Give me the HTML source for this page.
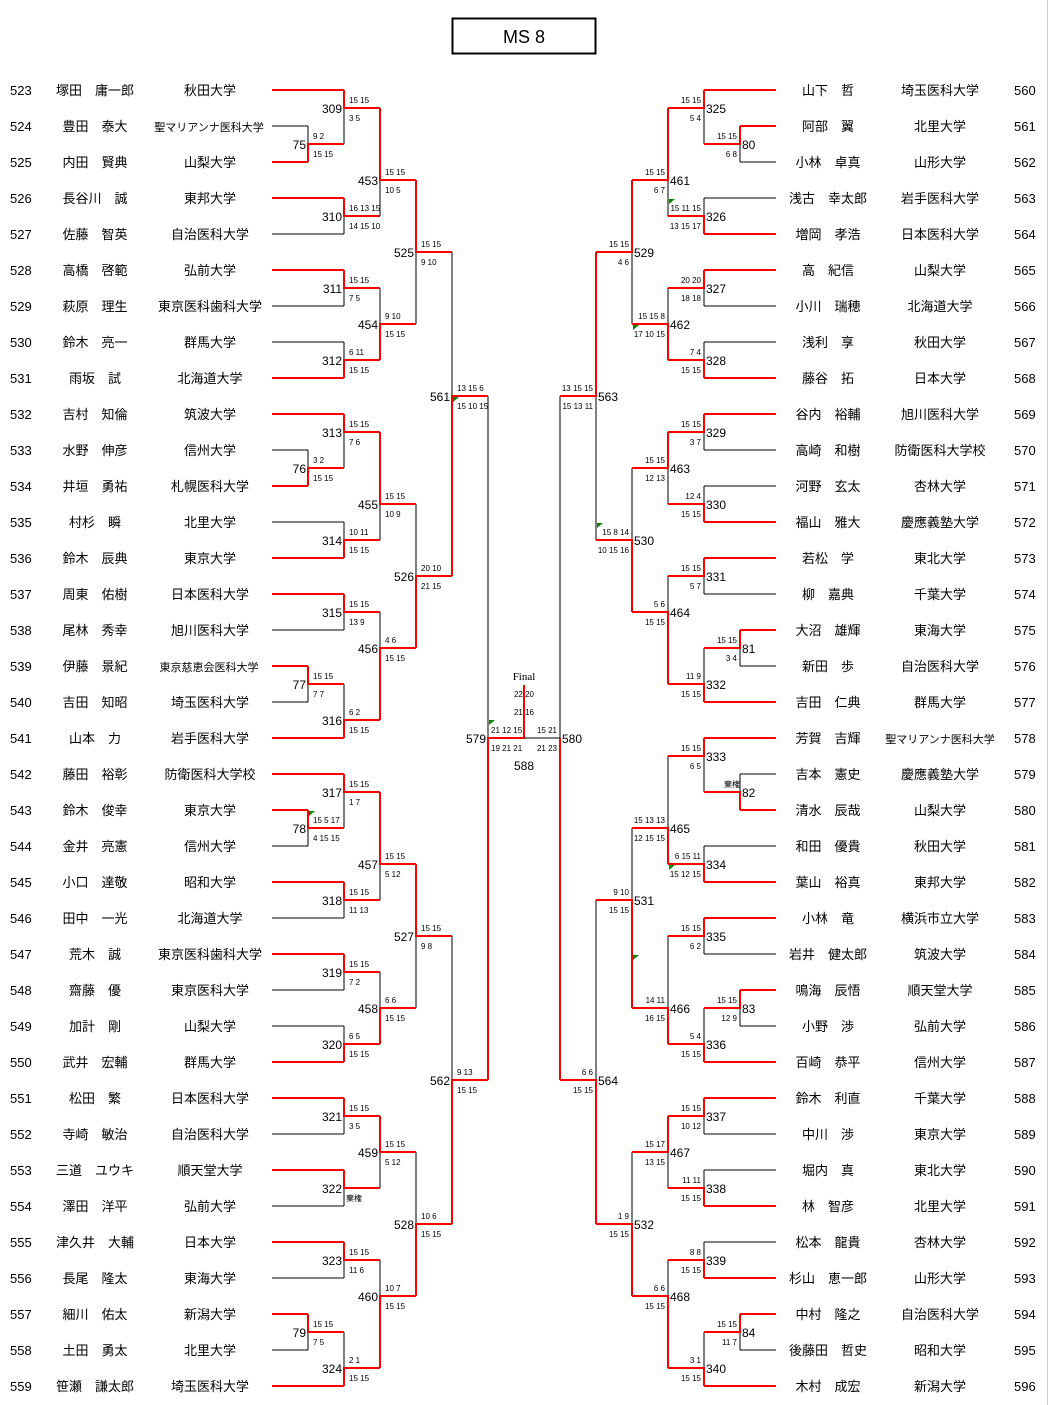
<!DOCTYPE html>
<html><head><meta charset="utf-8"><style>
body{margin:0;background:#fff;}
svg{display:block;font-family:"Liberation Sans","Noto Sans CJK JP",sans-serif;}
.p{font-size:13px;}
.sm{font-size:11px;}
.n{font-size:12px;}
.s{font-size:8px;}
.bk{stroke:#000;stroke-width:1;fill:none;}
.rd{stroke:#f00;stroke-width:2;fill:none;}
</style></head><body>
<svg width="1049" height="1405" viewBox="0 0 1049 1405">
<line x1="1047.5" y1="0" x2="1047.5" y2="1405" stroke="#ccc"/>
<rect x="452.5" y="18.5" width="143" height="35" fill="none" stroke="#000" stroke-width="2"/>
<text x="524" y="43" text-anchor="middle" font-size="18">MS 8</text>

<!-- LEFT lines -->
<path class="bk" d="M272 126H308 M272 234H344 M272 306H344 M272 342H344 M272 450H308 M272 522H344 M272 630H344 M272 702H308 M272 846H308 M272 918H344 M272 990H344 M272 1026H344 M272 1134H344 M272 1206H344 M272 1278H344 M272 1350H308
M308 126V144 M308 450V468 M308 684V702 M308 828V846 M308 1332V1350
M344 108V144 M344 216V234 M344 288V306 M344 342V360 M344 432V468 M344 522V540 M344 612V630 M344 684V720 M344 792V828 M344 900V918 M344 972V990 M344 1026V1044 M344 1116V1134 M344 1188V1206 M344 1260V1278 M344 1332V1368
M380 180V216 M380 288V324 M380 504V540 M380 612V648 M380 864V900 M380 972V1008 M380 1152V1188 M380 1260V1296
M416 252V324 M416 504V576 M416 936V1008 M416 1152V1224
M452 252V396 M452 936V1080 M488 396V738"/>
<path class="rd" d="M272 90H344 M272 162H308 M272 198H344 M272 270H344 M272 378H344 M272 414H344 M272 486H308 M272 558H344 M272 594H344 M272 666H308 M272 738H344 M272 774H344 M272 810H308 M272 882H344 M272 954H344 M272 1062H344 M272 1098H344 M272 1170H344 M272 1242H344 M272 1314H308 M272 1386H344
M308 162V144H344 M308 486V468H344 M308 666V684H344 M308 810V828H344 M308 1314V1332H344
M344 90V108H380 M344 198V216H380 M344 270V288H380 M344 378V360H380 M344 414V432H380 M344 558V540H380 M344 594V612H380 M344 738V720H380 M344 774V792H380 M344 882V900H380 M344 954V972H380 M344 1062V1044H380 M344 1098V1116H380 M344 1170V1188H380 M344 1242V1260H380 M344 1386V1368H380
M380 108V180H416 M380 360V324H416 M380 432V504H416 M380 720V648H416 M380 792V864H416 M380 1044V1008H416 M380 1116V1152H416 M380 1368V1296H416
M416 180V252H452 M416 648V576H452 M416 864V936H452 M416 1296V1224H452
M452 576V396H488 M452 1224V1080H488 M488 1080V738H524V685"/>

<!-- RIGHT lines -->
<path class="bk" d="M776 162H740 M776 198H704 M776 306H704 M776 342H704 M776 450H704 M776 486H704 M776 594H704 M776 666H740 M776 774H740 M776 846H704 M776 954H704 M776 1026H740 M776 1134H704 M776 1170H704 M776 1242H704 M776 1350H740
M740 144V162 M740 648V666 M740 774V792 M740 1008V1026 M740 1332V1350
M704 108V144 M704 198V216 M704 288V306 M704 342V360 M704 432V450 M704 486V504 M704 576V594 M704 648V684 M704 756V792 M704 846V864 M704 936V954 M704 1008V1044 M704 1116V1134 M704 1170V1188 M704 1242V1260 M704 1332V1368
M668 180V216 M668 288V324 M668 468V504 M668 576V612 M668 756V828 M668 936V1008 M668 1152V1188 M668 1260V1296
M632 252V324 M632 468V540 M632 828V900 M632 1152V1224
M596 396V540 M596 900V1080 M560 396V738H524"/>
<path class="rd" d="M776 90H704 M776 126H740 M776 234H704 M776 270H704 M776 378H704 M776 414H704 M776 522H704 M776 558H704 M776 630H740 M776 702H704 M776 738H704 M776 810H740 M776 882H704 M776 918H704 M776 990H740 M776 1062H704 M776 1098H704 M776 1206H704 M776 1278H704 M776 1314H740 M776 1386H704
M740 126V144H704 M740 630V648H704 M740 810V792H704 M740 990V1008H704 M740 1314V1332H704
M704 90V108H668 M704 234V216H668 M704 270V288H668 M704 378V360H668 M704 414V432H668 M704 522V504H668 M704 558V576H668 M704 702V684H668 M704 738V756H668 M704 882V864H668 M704 918V936H668 M704 1062V1044H668 M704 1098V1116H668 M704 1206V1188H668 M704 1278V1260H668 M704 1386V1368H668
M668 108V180H632 M668 360V324H632 M668 432V468H632 M668 684V612H632 M668 864V828H632 M668 1044V1008H632 M668 1116V1152H632 M668 1368V1296H632
M632 180V252H596 M632 612V540H596 M632 1008V900H596 M632 1296V1224H596
M596 252V396H560 M596 1224V1080H560 M560 1080V738"/>

<!-- green marks -->
<g fill="#080">
<path d="M453 397h6l-6 5z"/><path d="M489 720h6l-6 5z"/><path d="M309 811h6l-6 5z"/>
<path d="M669 199h6l-6 5z"/><path d="M633 325h6l-6 5z"/><path d="M597 523h6l-6 5z"/><path d="M669 865h6l-6 5z"/><path d="M633 955h6l-6 5z"/>
</g>

<!-- node labels left -->
<g class="n" text-anchor="end">
<text x="306" y="149">75</text><text x="306" y="473">76</text><text x="306" y="689">77</text><text x="306" y="833">78</text><text x="306" y="1337">79</text>
<text x="342" y="113">309</text><text x="342" y="221">310</text><text x="342" y="293">311</text><text x="342" y="365">312</text><text x="342" y="437">313</text><text x="342" y="545">314</text><text x="342" y="617">315</text><text x="342" y="725">316</text><text x="342" y="797">317</text><text x="342" y="905">318</text><text x="342" y="977">319</text><text x="342" y="1049">320</text><text x="342" y="1121">321</text><text x="342" y="1193">322</text><text x="342" y="1265">323</text><text x="342" y="1373">324</text>
<text x="378" y="185">453</text><text x="378" y="329">454</text><text x="378" y="509">455</text><text x="378" y="653">456</text><text x="378" y="869">457</text><text x="378" y="1013">458</text><text x="378" y="1157">459</text><text x="378" y="1301">460</text>
<text x="414" y="257">525</text><text x="414" y="581">526</text><text x="414" y="941">527</text><text x="414" y="1229">528</text>
<text x="450" y="401">561</text><text x="450" y="1085">562</text><text x="486" y="743">579</text>
</g>
<g class="n">
<text x="742" y="149">80</text><text x="742" y="653">81</text><text x="742" y="797">82</text><text x="742" y="1013">83</text><text x="742" y="1337">84</text>
<text x="706" y="113">325</text><text x="706" y="221">326</text><text x="706" y="293">327</text><text x="706" y="365">328</text><text x="706" y="437">329</text><text x="706" y="509">330</text><text x="706" y="581">331</text><text x="706" y="689">332</text><text x="706" y="761">333</text><text x="706" y="869">334</text><text x="706" y="941">335</text><text x="706" y="1049">336</text><text x="706" y="1121">337</text><text x="706" y="1193">338</text><text x="706" y="1265">339</text><text x="706" y="1373">340</text>
<text x="670" y="185">461</text><text x="670" y="329">462</text><text x="670" y="473">463</text><text x="670" y="617">464</text><text x="670" y="833">465</text><text x="670" y="1013">466</text><text x="670" y="1157">467</text><text x="670" y="1301">468</text>
<text x="634" y="257">529</text><text x="634" y="545">530</text><text x="634" y="905">531</text><text x="634" y="1229">532</text>
<text x="598" y="401">563</text><text x="598" y="1085">564</text><text x="562" y="743">580</text>
<text x="524" y="770" text-anchor="middle">588</text>
</g>
<text x="524" y="680" text-anchor="middle" font-size="11" font-family="Liberation Serif,serif">Final</text>

<!-- scores left -->
<g class="s">
<text x="313" y="139">9 2</text><text x="313" y="157">15 15</text>
<text x="313" y="463">3 2</text><text x="313" y="481">15 15</text>
<text x="313" y="679">15 15</text><text x="313" y="697">7 7</text>
<text x="313" y="823">15 5 17</text><text x="313" y="841">4 15 15</text>
<text x="313" y="1327">15 15</text><text x="313" y="1345">7 5</text>
<text x="349" y="103">15 15</text><text x="349" y="121">3 5</text>
<text x="349" y="211">16 13 15</text><text x="349" y="229">14 15 10</text>
<text x="349" y="283">15 15</text><text x="349" y="301">7 5</text>
<text x="349" y="355">6 11</text><text x="349" y="373">15 15</text>
<text x="349" y="427">15 15</text><text x="349" y="445">7 6</text>
<text x="349" y="535">10 11</text><text x="349" y="553">15 15</text>
<text x="349" y="607">15 15</text><text x="349" y="625">13 9</text>
<text x="349" y="715">6 2</text><text x="349" y="733">15 15</text>
<text x="349" y="787">15 15</text><text x="349" y="805">1 7</text>
<text x="349" y="895">15 15</text><text x="349" y="913">11 13</text>
<text x="349" y="967">15 15</text><text x="349" y="985">7 2</text>
<text x="349" y="1039">6 5</text><text x="349" y="1057">15 15</text>
<text x="349" y="1111">15 15</text><text x="349" y="1129">3 5</text>
<text x="346" y="1201">棄権</text>
<text x="349" y="1255">15 15</text><text x="349" y="1273">11 6</text>
<text x="349" y="1363">2 1</text><text x="349" y="1381">15 15</text>
<text x="385" y="175">15 15</text><text x="385" y="193">10 5</text>
<text x="385" y="319">9 10</text><text x="385" y="337">15 15</text>
<text x="385" y="499">15 15</text><text x="385" y="517">10 9</text>
<text x="385" y="643">4 6</text><text x="385" y="661">15 15</text>
<text x="385" y="859">15 15</text><text x="385" y="877">5 12</text>
<text x="385" y="1003">6 6</text><text x="385" y="1021">15 15</text>
<text x="385" y="1147">15 15</text><text x="385" y="1165">5 12</text>
<text x="385" y="1291">10 7</text><text x="385" y="1309">15 15</text>
<text x="421" y="247">15 15</text><text x="421" y="265">9 10</text>
<text x="421" y="571">20 10</text><text x="421" y="589">21 15</text>
<text x="421" y="931">15 15</text><text x="421" y="949">9 8</text>
<text x="421" y="1219">10 6</text><text x="421" y="1237">15 15</text>
<text x="457" y="391">13 15 6</text><text x="457" y="409">15 10 15</text>
<text x="457" y="1075">9 13</text><text x="457" y="1093">15 15</text>
<text x="491" y="733">21 12 15</text><text x="491" y="751">19 21 21</text>
<text x="524" y="697" text-anchor="middle">22 20</text><text x="524" y="715" text-anchor="middle">21 16</text>
<text x="557" y="733" text-anchor="end">15 21</text><text x="557" y="751" text-anchor="end">21 23</text>
</g>
<!-- scores right -->
<g class="s" text-anchor="end">
<text x="737" y="139">15 15</text><text x="737" y="157">6 8</text>
<text x="737" y="643">15 15</text><text x="737" y="661">3 4</text>
<text x="740" y="787">棄権</text>
<text x="737" y="1003">15 15</text><text x="737" y="1021">12 9</text>
<text x="737" y="1327">15 15</text><text x="737" y="1345">11 7</text>
<text x="701" y="103">15 15</text><text x="701" y="121">5 4</text>
<text x="701" y="211">15 11 15</text><text x="701" y="229">13 15 17</text>
<text x="701" y="283">20 20</text><text x="701" y="301">18 18</text>
<text x="701" y="355">7 4</text><text x="701" y="373">15 15</text>
<text x="701" y="427">15 15</text><text x="701" y="445">3 7</text>
<text x="701" y="499">12 4</text><text x="701" y="517">15 15</text>
<text x="701" y="571">15 15</text><text x="701" y="589">5 7</text>
<text x="701" y="679">11 9</text><text x="701" y="697">15 15</text>
<text x="701" y="751">15 15</text><text x="701" y="769">6 5</text>
<text x="701" y="859">6 15 11</text><text x="701" y="877">15 12 15</text>
<text x="701" y="931">15 15</text><text x="701" y="949">6 2</text>
<text x="701" y="1039">5 4</text><text x="701" y="1057">15 15</text>
<text x="701" y="1111">15 15</text><text x="701" y="1129">10 12</text>
<text x="701" y="1183">11 11</text><text x="701" y="1201">15 15</text>
<text x="701" y="1255">8 8</text><text x="701" y="1273">15 15</text>
<text x="701" y="1363">3 1</text><text x="701" y="1381">15 15</text>
<text x="665" y="175">15 15</text><text x="665" y="193">6 7</text>
<text x="665" y="319">15 15 8</text><text x="665" y="337">17 10 15</text>
<text x="665" y="463">15 15</text><text x="665" y="481">12 13</text>
<text x="665" y="607">5 6</text><text x="665" y="625">15 15</text>
<text x="665" y="823">15 13 13</text><text x="665" y="841">12 15 15</text>
<text x="665" y="1003">14 11</text><text x="665" y="1021">16 15</text>
<text x="665" y="1147">15 17</text><text x="665" y="1165">13 15</text>
<text x="665" y="1291">6 6</text><text x="665" y="1309">15 15</text>
<text x="629" y="247">15 15</text><text x="629" y="265">4 6</text>
<text x="629" y="535">15 8 14</text><text x="629" y="553">10 15 16</text>
<text x="629" y="895">9 10</text><text x="629" y="913">15 15</text>
<text x="629" y="1219">1 9</text><text x="629" y="1237">15 15</text>
<text x="593" y="391">13 15 15</text><text x="593" y="409">15 13 11</text>
<text x="593" y="1075">6 6</text><text x="593" y="1093">15 15</text>
</g>

<!-- LEFT players -->
<g class="p">
<g><text x="10" y="95">523</text><text x="10" y="131">524</text><text x="10" y="167">525</text><text x="10" y="203">526</text><text x="10" y="239">527</text><text x="10" y="275">528</text><text x="10" y="311">529</text><text x="10" y="347">530</text><text x="10" y="383">531</text><text x="10" y="419">532</text><text x="10" y="455">533</text><text x="10" y="491">534</text><text x="10" y="527">535</text><text x="10" y="563">536</text><text x="10" y="599">537</text><text x="10" y="635">538</text><text x="10" y="671">539</text><text x="10" y="707">540</text><text x="10" y="743">541</text><text x="10" y="779">542</text><text x="10" y="815">543</text><text x="10" y="851">544</text><text x="10" y="887">545</text><text x="10" y="923">546</text><text x="10" y="959">547</text><text x="10" y="995">548</text><text x="10" y="1031">549</text><text x="10" y="1067">550</text><text x="10" y="1103">551</text><text x="10" y="1139">552</text><text x="10" y="1175">553</text><text x="10" y="1211">554</text><text x="10" y="1247">555</text><text x="10" y="1283">556</text><text x="10" y="1319">557</text><text x="10" y="1355">558</text><text x="10" y="1391">559</text></g>
<g text-anchor="middle">
<text x="95" y="95">塚田　庸一郎</text><text x="95" y="131">豊田　泰大</text><text x="95" y="167">内田　賢典</text><text x="95" y="203">長谷川　誠</text><text x="95" y="239">佐藤　智英</text><text x="95" y="275">高橋　啓範</text><text x="95" y="311">萩原　理生</text><text x="95" y="347">鈴木　亮一</text><text x="95" y="383">雨坂　試</text><text x="95" y="419">吉村　知倫</text><text x="95" y="455">水野　伸彦</text><text x="95" y="491">井垣　勇祐</text><text x="95" y="527">村杉　瞬</text><text x="95" y="563">鈴木　辰典</text><text x="95" y="599">周東　佑樹</text><text x="95" y="635">尾林　秀幸</text><text x="95" y="671">伊藤　景紀</text><text x="95" y="707">吉田　知昭</text><text x="95" y="743">山本　力</text><text x="95" y="779">藤田　裕彰</text><text x="95" y="815">鈴木　俊幸</text><text x="95" y="851">金井　亮憲</text><text x="95" y="887">小口　達敬</text><text x="95" y="923">田中　一光</text><text x="95" y="959">荒木　誠</text><text x="95" y="995">齋藤　優</text><text x="95" y="1031">加計　剛</text><text x="95" y="1067">武井　宏輔</text><text x="95" y="1103">松田　繁</text><text x="95" y="1139">寺崎　敏治</text><text x="95" y="1175">三道　ユウキ</text><text x="95" y="1211">澤田　洋平</text><text x="95" y="1247">津久井　大輔</text><text x="95" y="1283">長尾　隆太</text><text x="95" y="1319">細川　佑太</text><text x="95" y="1355">土田　勇太</text><text x="95" y="1391">笹瀬　謙太郎</text>
<text x="210" y="95">秋田大学</text><text x="209" y="131" class="sm">聖マリアンナ医科大学</text><text x="210" y="167">山梨大学</text><text x="210" y="203">東邦大学</text><text x="210" y="239">自治医科大学</text><text x="210" y="275">弘前大学</text><text x="210" y="311">東京医科歯科大学</text><text x="210" y="347">群馬大学</text><text x="210" y="383">北海道大学</text><text x="210" y="419">筑波大学</text><text x="210" y="455">信州大学</text><text x="210" y="491">札幌医科大学</text><text x="210" y="527">北里大学</text><text x="210" y="563">東京大学</text><text x="210" y="599">日本医科大学</text><text x="210" y="635">旭川医科大学</text><text x="209" y="671" class="sm">東京慈恵会医科大学</text><text x="210" y="707">埼玉医科大学</text><text x="210" y="743">岩手医科大学</text><text x="210" y="779">防衛医科大学校</text><text x="210" y="815">東京大学</text><text x="210" y="851">信州大学</text><text x="210" y="887">昭和大学</text><text x="210" y="923">北海道大学</text><text x="210" y="959">東京医科歯科大学</text><text x="210" y="995">東京医科大学</text><text x="210" y="1031">山梨大学</text><text x="210" y="1067">群馬大学</text><text x="210" y="1103">日本医科大学</text><text x="210" y="1139">自治医科大学</text><text x="210" y="1175">順天堂大学</text><text x="210" y="1211">弘前大学</text><text x="210" y="1247">日本大学</text><text x="210" y="1283">東海大学</text><text x="210" y="1319">新潟大学</text><text x="210" y="1355">北里大学</text><text x="210" y="1391">埼玉医科大学</text>
</g>
</g>

<!-- RIGHT players -->
<g class="p">
<g text-anchor="middle">
<text x="828" y="95">山下　哲</text><text x="828" y="131">阿部　翼</text><text x="828" y="167">小林　卓真</text><text x="828" y="203">浅古　幸太郎</text><text x="828" y="239">増岡　孝浩</text><text x="828" y="275">高　紀信</text><text x="828" y="311">小川　瑞穂</text><text x="828" y="347">浅利　享</text><text x="828" y="383">藤谷　拓</text><text x="828" y="419">谷内　裕輔</text><text x="828" y="455">高崎　和樹</text><text x="828" y="491">河野　玄太</text><text x="828" y="527">福山　雅大</text><text x="828" y="563">若松　学</text><text x="828" y="599">柳　嘉典</text><text x="828" y="635">大沼　雄輝</text><text x="828" y="671">新田　歩</text><text x="828" y="707">吉田　仁典</text><text x="828" y="743">芳賀　吉輝</text><text x="828" y="779">吉本　憲史</text><text x="828" y="815">清水　辰哉</text><text x="828" y="851">和田　優貴</text><text x="828" y="887">葉山　裕真</text><text x="828" y="923">小林　竜</text><text x="828" y="959">岩井　健太郎</text><text x="828" y="995">鳴海　辰悟</text><text x="828" y="1031">小野　渉</text><text x="828" y="1067">百崎　恭平</text><text x="828" y="1103">鈴木　利直</text><text x="828" y="1139">中川　渉</text><text x="828" y="1175">堀内　真</text><text x="828" y="1211">林　智彦</text><text x="828" y="1247">松本　龍貴</text><text x="828" y="1283">杉山　恵一郎</text><text x="828" y="1319">中村　隆之</text><text x="828" y="1355">後藤田　哲史</text><text x="828" y="1391">木村　成宏</text>
<text x="940" y="95">埼玉医科大学</text><text x="940" y="131">北里大学</text><text x="940" y="167">山形大学</text><text x="940" y="203">岩手医科大学</text><text x="940" y="239">日本医科大学</text><text x="940" y="275">山梨大学</text><text x="940" y="311">北海道大学</text><text x="940" y="347">秋田大学</text><text x="940" y="383">日本大学</text><text x="940" y="419">旭川医科大学</text><text x="940" y="455">防衛医科大学校</text><text x="940" y="491">杏林大学</text><text x="940" y="527">慶應義塾大学</text><text x="940" y="563">東北大学</text><text x="940" y="599">千葉大学</text><text x="940" y="635">東海大学</text><text x="940" y="671">自治医科大学</text><text x="940" y="707">群馬大学</text><text x="940" y="743" class="sm">聖マリアンナ医科大学</text><text x="940" y="779">慶應義塾大学</text><text x="940" y="815">山梨大学</text><text x="940" y="851">秋田大学</text><text x="940" y="887">東邦大学</text><text x="940" y="923">横浜市立大学</text><text x="940" y="959">筑波大学</text><text x="940" y="995">順天堂大学</text><text x="940" y="1031">弘前大学</text><text x="940" y="1067">信州大学</text><text x="940" y="1103">千葉大学</text><text x="940" y="1139">東京大学</text><text x="940" y="1175">東北大学</text><text x="940" y="1211">北里大学</text><text x="940" y="1247">杏林大学</text><text x="940" y="1283">山形大学</text><text x="940" y="1319">自治医科大学</text><text x="940" y="1355">昭和大学</text><text x="940" y="1391">新潟大学</text>
</g>
<g><text x="1014" y="95">560</text><text x="1014" y="131">561</text><text x="1014" y="167">562</text><text x="1014" y="203">563</text><text x="1014" y="239">564</text><text x="1014" y="275">565</text><text x="1014" y="311">566</text><text x="1014" y="347">567</text><text x="1014" y="383">568</text><text x="1014" y="419">569</text><text x="1014" y="455">570</text><text x="1014" y="491">571</text><text x="1014" y="527">572</text><text x="1014" y="563">573</text><text x="1014" y="599">574</text><text x="1014" y="635">575</text><text x="1014" y="671">576</text><text x="1014" y="707">577</text><text x="1014" y="743">578</text><text x="1014" y="779">579</text><text x="1014" y="815">580</text><text x="1014" y="851">581</text><text x="1014" y="887">582</text><text x="1014" y="923">583</text><text x="1014" y="959">584</text><text x="1014" y="995">585</text><text x="1014" y="1031">586</text><text x="1014" y="1067">587</text><text x="1014" y="1103">588</text><text x="1014" y="1139">589</text><text x="1014" y="1175">590</text><text x="1014" y="1211">591</text><text x="1014" y="1247">592</text><text x="1014" y="1283">593</text><text x="1014" y="1319">594</text><text x="1014" y="1355">595</text><text x="1014" y="1391">596</text></g>
</g>
</svg>
</body></html>
